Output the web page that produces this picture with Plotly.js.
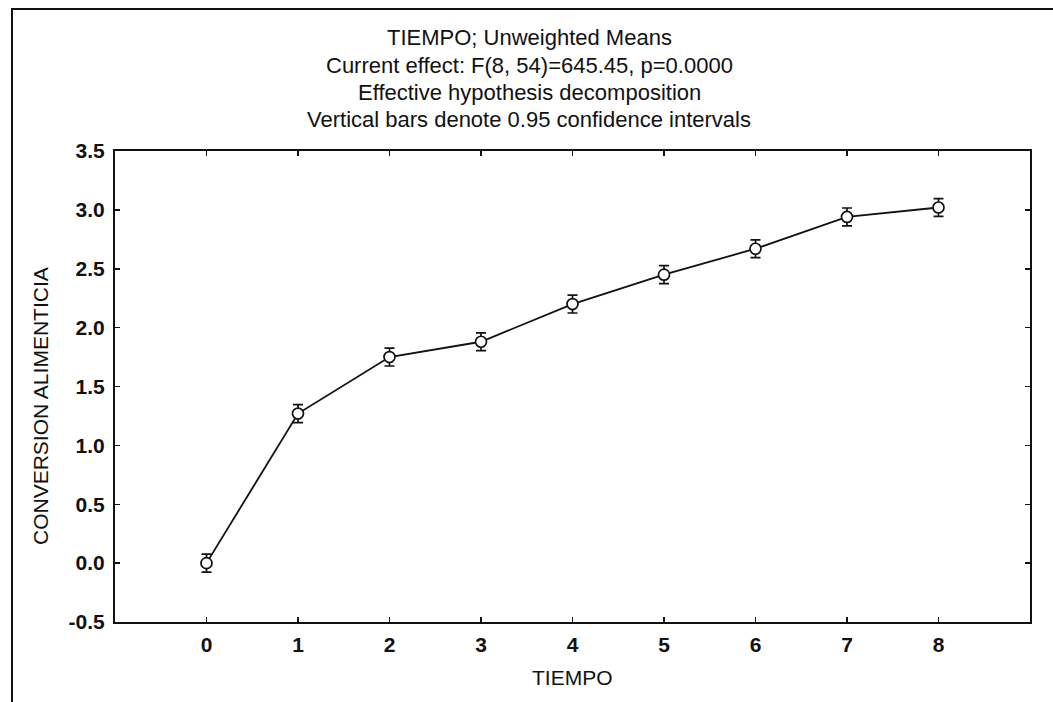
<!DOCTYPE html>
<html>
<head>
<meta charset="utf-8">
<script src="https://cdn.plot.ly/plotly-3.0.1.min.js"></script>
<style>
html,body{margin:0;padding:0;background:#fff;}
#wrap{position:relative;width:1053px;height:702px;overflow:hidden;}
#chart{width:1053px;height:702px;}
#frame{position:absolute;left:11px;top:8px;width:1100px;height:800px;border-left:2px solid #111;border-top:2px solid #111;pointer-events:none;}
</style>
</head>
<body>
<div id="wrap"><div id="chart"></div><div id="frame"></div></div>
<script>
const tiempo = [0, 1, 2, 3, 4, 5, 6, 7, 8];
const conversion = [0.00, 1.27, 1.75, 1.88, 2.20, 2.45, 2.67, 2.94, 3.02];
const ci95 = [0.076, 0.076, 0.076, 0.076, 0.076, 0.076, 0.076, 0.076, 0.076];
const xTicks = [0, 1, 2, 3, 4, 5, 6, 7, 8];
const yTicks = [-0.5, 0, 0.5, 1, 1.5, 2, 2.5, 3, 3.5];
const yTickText = ['-0.5', '0.0', '0.5', '1.0', '1.5', '2.0', '2.5', '3.0', '3.5'];
const titleLines = [
  'TIEMPO; Unweighted Means',
  'Current effect: F(8, 54)=645.45, p=0.0000',
  'Effective hypothesis decomposition',
  'Vertical bars denote 0.95 confidence intervals'
];
const xTitle = 'TIEMPO';
const yTitle = 'CONVERSION ALIMENTICIA';

const FONT = 'Liberation Sans, Arial, sans-serif';
const trace = {
  x: tiempo, y: conversion, type: 'scatter', mode: 'lines+markers',
  line: {color: '#111', width: 1.8},
  marker: {symbol: 'circle', size: 11, color: '#fff', line: {color: '#111', width: 1.7}},
  error_y: {type: 'data', array: ci95, visible: true, color: '#111', thickness: 1.7, width: 5},
  showlegend: false, cliponaxis: false
};

const L = 115, R = 1030, T = 151, B = 622;
const titleY = [37, 65, 92, 119];
const annotations = titleLines.map((t, i) => ({
  text: t, xref: 'paper', yref: 'paper',
  x: (529 - L) / (R - L), y: (B - titleY[i]) / (B - T),
  xanchor: 'center', yanchor: 'middle', showarrow: false,
  font: {family: FONT, size: 22, color: '#111'}
}));
annotations.push({
  text: yTitle, xref: 'paper', yref: 'paper',
  x: (40 - L) / (R - L), y: (B - 406) / (B - T),
  xanchor: 'center', yanchor: 'middle', showarrow: false, textangle: -90,
  font: {family: FONT, size: 21, color: '#111'}
});
annotations.push({
  text: xTitle, xref: 'paper', yref: 'paper',
  x: 0.5, y: (B - 677) / (B - T),
  xanchor: 'center', yanchor: 'middle', showarrow: false,
  font: {family: FONT, size: 21, color: '#111'}
});

const layout = {
  width: 1053, height: 702,
  margin: {l: L, r: 1053 - R, t: T, b: 702 - B, pad: 0},
  paper_bgcolor: '#fff', plot_bgcolor: '#fff',
  font: {family: FONT, color: '#111'},
  xaxis: {
    range: [-1, 9], tickvals: xTicks, ticktext: xTicks.map(String),
    ticks: 'inside', ticklen: 5, tickwidth: 1.5, tickcolor: '#111',
    showline: true, linecolor: '#111', linewidth: 2, mirror: 'ticks',
    showgrid: false, zeroline: false,
    tickfont: {family: FONT, size: 21, color: '#111', weight: 'bold'},
    ticklabelstandoff: 3
  },
  yaxis: {
    range: [-0.5, 3.5], tickvals: yTicks, ticktext: yTickText,
    ticks: 'inside', ticklen: 5, tickwidth: 1.5, tickcolor: '#111',
    showline: true, linecolor: '#111', linewidth: 2, mirror: 'ticks',
    showgrid: false, zeroline: false,
    tickfont: {family: FONT, size: 21, color: '#111', weight: 'bold'},
    ticklabelstandoff: 4
  },
  annotations: annotations
};
Plotly.newPlot('chart', [trace], layout, {displayModeBar: false, staticPlot: true});
</script>
</body>
</html>
